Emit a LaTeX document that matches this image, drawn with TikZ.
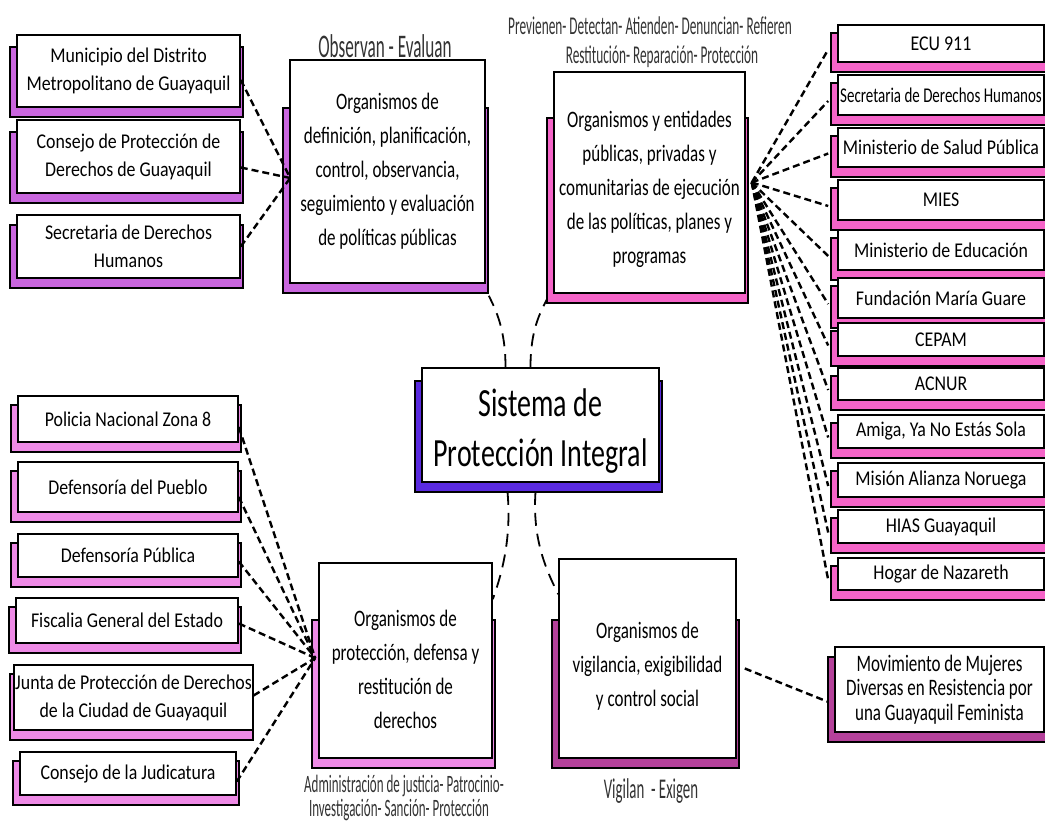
\documentclass[tikz,border=0pt]{standalone}
\usepackage{fontspec}
\usepackage{graphicx}
\setmainfont{Carlito}[FakeStretch=0.85]
\newfontfamily\lblfont{Carlito}[FakeStretch=0.52]
\newfontfamily\bigf{Carlito}[FakeStretch=0.72]
\newfontfamily\cenf{Carlito}[FakeStretch=0.7]
\usetikzlibrary{calc}
\definecolor{cTL}{HTML}{C966DE}
\definecolor{cTR}{HTML}{F564C8}
\definecolor{cBL}{HTML}{EE8AE6}
\definecolor{cBR}{HTML}{B4419A}
\definecolor{cC}{HTML}{5A2AE0}
\tikzset{
  shadowst/.style={draw=black, line width=1.6pt},
  boxst/.style={draw=black, fill=white, line width=1.6pt, align=center, inner sep=1pt},
  conn/.style={line width=2.4pt, dash pattern=on 7pt off 4pt},
  curv/.style={line width=1.8pt, dash pattern=on 13pt off 8pt},
  lbl/.style={inner sep=0pt, text=black!80, align=center},
  lst/.style={font=\fontsize{21}{28}\selectfont},
  big/.style={font=\bigf\fontsize{23.6}{34}\selectfont},
  cen/.style={font=\cenf\fontsize{40}{50}\selectfont},
  mov/.style={font=\bigf\fontsize{23.6}{24.5}\selectfont},
}
\newcommand\Bx[9][]{%
  \draw[shadowst, fill=#8] (#3-7,#4+#7) rectangle (#5+3,#6+10);
  \node[boxst,#1, minimum width={(#5-#3)*1pt}, minimum height={(#6-#4)*1pt}] (#2) at ({(#3+#5)/2},{(#4+#6)/2}) {#9};
}
\begin{document}
\begin{tikzpicture}[x=1pt,y=-1pt]
\fill[white] (0,0) rectangle (1045,823);
\useasboundingbox (0,0) rectangle (1045,823);
% top-left list
\Bx[lst]{m1}{17}{35}{240}{107}{12}{cTL}{Municipio del Distrito\\Metropolitano de Guayaquil}
\Bx[lst]{m2}{17}{120}{240}{193}{12}{cTL}{Consejo de Protección de\\Derechos de Guayaquil}
\Bx[lst]{m3}{17}{215}{240}{278}{10}{cTL}{Secretaria de Derechos\\Humanos}
% main boxes
\Bx[big]{tm}{290}{60}{485}{283}{48}{cTL}{Organismos de\\definición, planificación,\\control, observancia,\\seguimiento y evaluación\\de políticas públicas}
\Bx[big]{tr}{554}{72}{745}{293}{46}{cTR}{\rule{0pt}{31pt}Organismos y entidades\\públicas, privadas y\\comunitarias de ejecución\\de las políticas, planes y\\programas}
\Bx[cen]{c}{422}{368}{659}{482}{13}{cC}{\rule{0pt}{40pt}Sistema de\\Protección Integral}
\Bx[big]{bl}{319}{563}{492}{758}{57}{cBL}{\rule{0pt}{34pt}Organismos de\\protección, defensa y\\restitución de\\derechos}
\Bx[big]{br}{559}{559}{736}{758}{61}{cBR}{\rule{0pt}{31pt}Organismos de\\vigilancia, exigibilidad\\y control social}
\Bx[mov]{mv}{835}{647}{1044}{732}{10}{cBR}{Movimiento de Mujeres\\Diversas en Resistencia por\\una Guayaquil Feminista}
% right list
\Bx[lst]{r1}{838}{25}{1044}{62}{8}{cTR}{ECU 911}
\Bx[lst]{r2}{838}{75}{1044}{115}{8}{cTR}{\scalebox{0.84}[1]{Secretaria de Derechos Humanos}}
\Bx[lst]{r3}{838}{128}{1044}{167}{8}{cTR}{Ministerio de Salud Pública}
\Bx[lst]{r4}{838}{180}{1044}{220}{8}{cTR}{MIES}
\Bx[lst]{r5}{838}{230}{1044}{270}{8}{cTR}{Ministerio de Educación}
\Bx[lst]{r6}{838}{278}{1044}{318}{8}{cTR}{Fundación María Guare}
\Bx[lst]{r7}{838}{323}{1044}{356}{8}{cTR}{CEPAM}
\Bx[lst]{r8}{838}{368}{1044}{400}{8}{cTR}{ACNUR}
\Bx[lst]{r9}{838}{415}{1044}{448}{8}{cTR}{Amiga, Ya No Estás Sola}
\Bx[lst]{r10}{838}{463}{1044}{497}{8}{cTR}{Misión Alianza Noruega}
\Bx[lst]{r11}{838}{510}{1044}{543}{8}{cTR}{HIAS Guayaquil}
\Bx[lst]{r12}{838}{558}{1044}{590}{8}{cTR}{Hogar de Nazareth}
% bottom-left list
\Bx[lst]{p1}{18}{396}{238}{442}{9}{cBL}{Policia Nacional Zona 8}
\Bx[lst]{p2}{18}{462}{238}{512}{9}{cBL}{Defensoría del Pueblo}
\Bx[lst]{p3}{18}{534}{238}{577}{9}{cBL}{Defensoría Pública}
\Bx[lst]{p4}{16}{598}{238}{643}{9}{cBL}{Fiscalia General del Estado}
\Bx[lst]{p5}{17}{665}{250}{730}{9}{cBL}{Junta de Protección de Derechos\\de la Ciudad de Guayaquil}
\Bx[lst]{p6}{20}{752}{236}{795}{9}{cBL}{Consejo de la Judicatura}
% labels
\node[lbl, font=\lblfont\fontsize{33}{33}\selectfont] (l1) at (385,46) {Observan - Evaluan};
\node[lbl, font=\lblfont\fontsize{25.6}{29}\selectfont] (l2) at (650,42) {Previenen- Detectan- Atienden- Denuncian- Refieren\\\hspace*{24pt}Restitución- Reparación- Protección};
\node[lbl, font=\lblfont\fontsize{25}{23.5}\selectfont] (l4) at (404,798) {Administración de justicia- Patrocinio-\\Investigación- Sanción- Protección\hspace*{10pt}};
\node[lbl, font=\lblfont\fontsize{28.6}{29}\selectfont] (l6) at (651,791) {Vigilan\ \ - Exigen};
% top-left connectors
\coordinate (tmin) at ([xshift=1pt,yshift=-6.5pt]tm.west);
\draw[conn] ([yshift=-9pt]m1.east) -- (tmin);
\draw[conn] ([yshift=-11pt]m2.east) -- (tmin);
\draw[conn] (m3.east) -- (tmin);
% right fan
\coordinate (trout) at ([xshift=6pt]tr.east);
\foreach \r in {r1,r2,r3,r4,r5,r6,r7,r8,r9,r10,r11,r12}
  \draw[conn] (trout) -- ([xshift=-9pt,yshift=-6pt]\r.west);
% bottom-left connectors
\coordinate (blin) at ([xshift=-3pt,yshift=2.5pt]bl.west);
\draw[conn] ([yshift=-8pt]p1.east) -- (blin);
\draw[conn] ([yshift=-10pt]p2.east) -- (blin);
\draw[conn] ([yshift=-6pt]p3.east) -- (blin);
\draw[conn] ([yshift=-3pt]p4.east) -- (blin);
\draw[conn] ([yshift=2pt]p5.east) -- (blin);
\draw[conn] ([yshift=-8pt]p6.east) -- (blin);
% bottom-right connector
\draw[conn] ([xshift=8pt,yshift=-10pt]br.east) -- ([xshift=-7pt,yshift=-12pt]mv.west);
% curved connectors from centre
\draw[curv] ([xshift=-35pt]c.north) .. controls +(0,-38) and +(7,14) .. ([xshift=3pt,yshift=-12pt]tm.south east);
\draw[curv] ([xshift=-10pt]c.north) .. controls +(0,-38) and +(-7,14) .. ([xshift=-6pt,yshift=-5pt]tr.south west);
\draw[curv] ([xshift=-33pt,yshift=-9pt]c.south) .. controls +(4,45) and +(10,-28) .. ([yshift=-37pt]bl.north east);
\draw[curv] ([xshift=-5pt,yshift=-9pt]c.south) .. controls +(-3,45) and +(-14,-28) .. ([yshift=-36pt]br.north west);
\end{tikzpicture}
\end{document}
